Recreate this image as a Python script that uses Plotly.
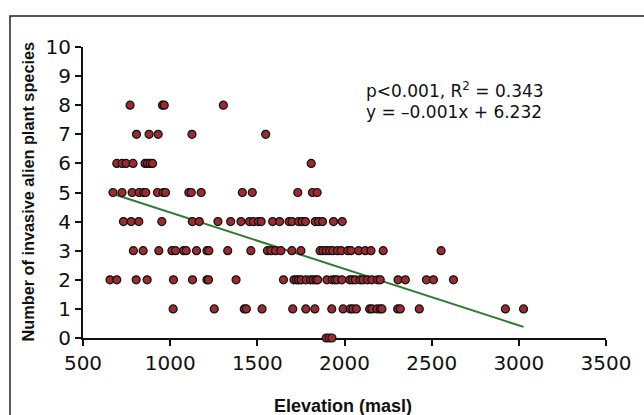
import plotly.graph_objects as go

# Elevation (masl) of sites grouped by number of invasive alien plant species
elev_0 = [1895, 1912, 1928]
elev_1 = [1017, 1253, 1425, 1437, 1527, 1703, 1778, 1830, 1927, 1992, 2033, 2048,
          2068, 2144, 2157, 2186, 2205, 2215, 2305, 2320, 2429, 2923, 3027]
elev_2 = [655, 694, 805, 868, 1019, 1128, 1211, 1220, 1378, 1650, 1710, 1725, 1738,
          1752, 1780, 1805, 1820, 1836, 1846, 1899, 1930, 1945, 1958, 1985, 2030,
          2045, 2062, 2090, 2106, 2132, 2157, 2190, 2205, 2307, 2349, 2470, 2510, 2625]
elev_3 = [789, 845, 935, 1010, 1031, 1077, 1092, 1151, 1211, 1222, 1330, 1463, 1558,
          1578, 1604, 1635, 1698, 1750, 1860, 1876, 1895, 1915, 1933, 1960, 1981,
          2019, 2037, 2081, 2119, 2152, 2222, 2554]
elev_4 = [732, 776, 820, 952, 1127, 1167, 1274, 1347, 1406, 1455, 1478, 1506, 1522,
          1588, 1628, 1682, 1699, 1737, 1757, 1776, 1832, 1851, 1874, 1937, 1987]
elev_5 = [672, 724, 782, 822, 847, 860, 927, 960, 973, 1107, 1121, 1178, 1414, 1471,
          1732, 1816, 1843]
elev_6 = [694, 724, 747, 787, 856, 870, 885, 899, 1809]
elev_7 = [807, 879, 931, 1125, 1548]
elev_8 = [770, 956, 966, 1305]

groups = [elev_0, elev_1, elev_2, elev_3, elev_4, elev_5, elev_6, elev_7, elev_8]
species_counts = [0, 1, 2, 3, 4, 5, 6, 7, 8]

# Trend line drawn in the figure
trend_slope = -0.00194
trend_intercept = 6.255

x_ticks = [500, 1000, 1500, 2000, 2500, 3000, 3500]
y_ticks = [0, 1, 2, 3, 4, 5, 6, 7, 8, 9, 10]

xs, ys = [], []
for n, g in zip(species_counts, groups):
    xs += g
    ys += [n] * len(g)

x0, x1 = min(xs), max(xs)

fig = go.Figure()
fig.add_trace(go.Scatter(
    x=[x0, x1], y=[trend_slope * x0 + trend_intercept, trend_slope * x1 + trend_intercept],
    mode="lines", line=dict(color="#2E7D2E", width=2), hoverinfo="skip"))
fig.add_trace(go.Scatter(
    x=xs, y=ys, mode="markers", cliponaxis=False,
    marker=dict(size=8, color="#9B2B30", line=dict(color="#111111", width=1.2))))

tick_font = dict(family="DejaVu Sans", size=20, color="#111111")
fig.update_layout(
    width=644, height=415,
    margin=dict(l=83, r=38, t=47, b=77),
    paper_bgcolor="white", plot_bgcolor="white",
    showlegend=False,
    xaxis=dict(range=[500, 3500], tickvals=x_ticks, ticks="outside", ticklen=6,
               tickwidth=2, tickcolor="#111", showline=True, linewidth=2,
               linecolor="#111", showgrid=False, zeroline=False, tickfont=tick_font,
               layer="below traces"),
    yaxis=dict(range=[0, 10], tickvals=y_ticks, ticks="outside", ticklen=6,
               tickwidth=2, tickcolor="#111", showline=True, linewidth=2,
               linecolor="#111", showgrid=False, zeroline=False, tickfont=tick_font,
               layer="below traces"),
    shapes=[dict(type="rect", xref="paper", yref="paper",
                 x0=-0.1396, x1=1.5, y0=-0.5, y1=1.1065,
                 line=dict(color="#222", width=1.5))],
    annotations=[
        dict(text="<b>Number of invasive alien plant species</b>", textangle=-90,
             xref="paper", yref="paper", x=-0.105, y=0.504, showarrow=False,
             xanchor="center", yanchor="middle",
             font=dict(family="Liberation Sans", size=16.3, color="#111")),
        dict(text="<b>Elevation (masl)</b>",
             xref="paper", yref="paper", x=0.498, y=-0.235, showarrow=False,
             xanchor="center", yanchor="middle",
             font=dict(family="Liberation Sans", size=18, color="#111")),
        dict(text="p<0.001, R<sup>2</sup> = 0.343",
             xref="paper", yref="paper", x=0.537, y=0.852, showarrow=False,
             xanchor="left", yanchor="middle",
             font=dict(family="DejaVu Sans", size=17, color="#111")),
        dict(text="y = \u20130.001x + 6.232",
             xref="paper", yref="paper", x=0.537, y=0.775, showarrow=False,
             xanchor="left", yanchor="middle",
             font=dict(family="DejaVu Sans", size=17, color="#111")),
    ],
)

fig.write_html("out.html")
